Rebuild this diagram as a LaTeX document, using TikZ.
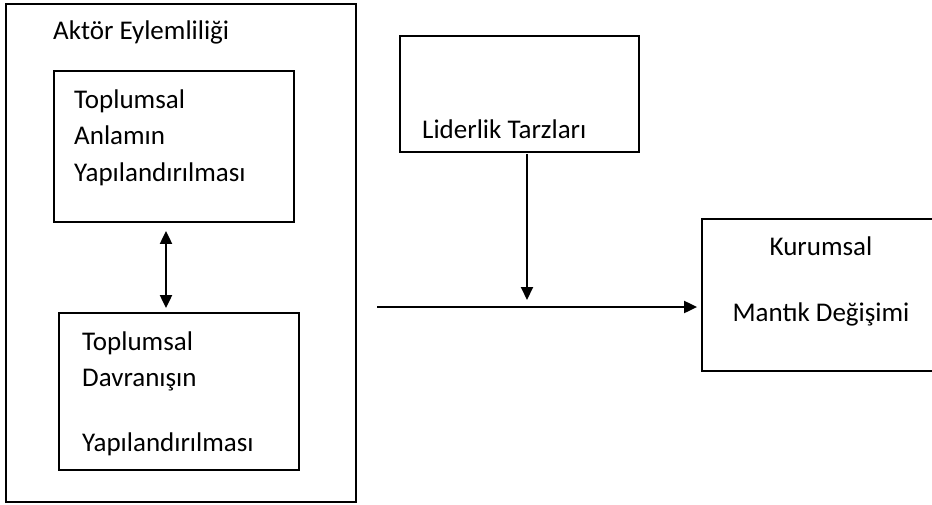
\documentclass[tikz,border=0pt]{standalone}
\usepackage{fontspec}
\setmainfont{Carlito}
\usetikzlibrary{arrows.meta}
\begin{document}
\begin{tikzpicture}[x=1pt,y=-1pt,
  box/.style={draw=black,line width=1.8pt,rectangle,inner sep=0pt},
  lbl/.style={anchor=base west,inner sep=0pt,font=\fontsize{27}{36.5}\selectfont,align=left},
  lblc/.style={anchor=base,inner sep=0pt,font=\fontsize{27}{36.5}\selectfont},
  conn/.style={line width=2pt,-{Triangle[length=13pt,width=12pt]}},
  dconn/.style={line width=2pt,{Triangle[length=13pt,width=12pt]}-{Triangle[length=13pt,width=12pt]}}]
\useasboundingbox (0,0) rectangle (932,504);
\clip (0,0) rectangle (932,504);
\fill[white] (0,0) rectangle (932,504);
% boxes
\node[box,minimum width=350pt,minimum height=498pt] (outer) at (181,253) {};
\node[box,minimum width=240pt,minimum height=151pt] (anlam) at (174,146.5) {};
\node[box,minimum width=240pt,minimum height=157pt] (davr) at (179,391.5) {};
\node[box,minimum width=239pt,minimum height=116pt] (lider) at (519.5,94) {};
\node[box,minimum width=260pt,minimum height=152pt] (kurum) at (832,295) {};
% texts
\node[lbl] (t0) at (53,39) {Aktör Eylemliliği};
\node[lbl] (t1) at (74,181) {Toplumsal\\Anlamın\\Yapılandırılması};
\node[lbl] (t2) at (82,451) {Toplumsal\\Davranışın\\[28pt]Yapılandırılması};
\node[lbl] (t3) at (422,138) {Liderlik Tarzları};
\node[lblc] (t4) at (821,255) {Kurumsal};
\node[lblc] (t5) at (821,321) {Mantık Değişimi};
% connectors
\coordinate (dx) at (166,0);
\draw[dconn,shorten <=8pt,shorten >=4pt] (anlam.south -| dx) -- (davr.north -| dx);
\coordinate (hs) at (377,307);
\draw[conn,shorten >=4pt] (hs) -- (kurum.west |- hs);
\coordinate (lx) at (527,0);
\coordinate (mid) at (527,307);
\draw[conn,shorten <=1pt,shorten >=7pt] (lider.south -| lx) -- (mid);
\end{tikzpicture}
\end{document}
